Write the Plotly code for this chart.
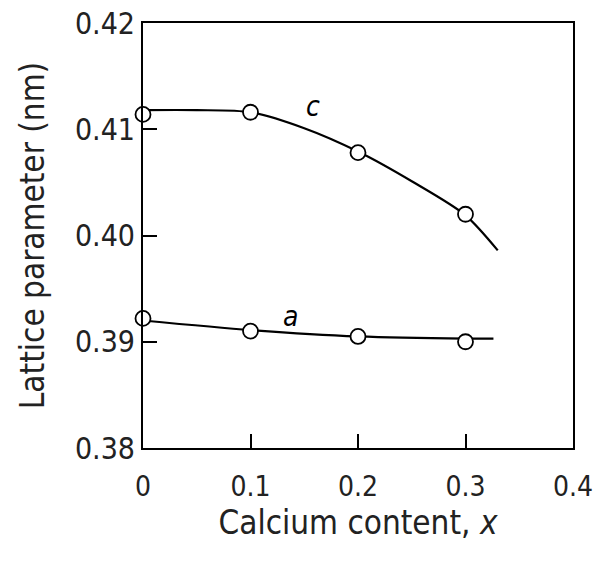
import plotly.graph_objects as go

# measured points
x_pts = [0.0, 0.1, 0.2, 0.3]
c_pts = [0.4114, 0.4116, 0.4078, 0.4020]
a_pts = [0.3922, 0.3910, 0.3905, 0.3900]

# fitted curves as drawn
c_curve_x = [0.0, 0.05, 0.1, 0.15, 0.2, 0.25, 0.3, 0.33]
c_curve_y = [0.4118, 0.4118, 0.4116, 0.4101, 0.4079, 0.4051, 0.4019, 0.3986]
a_curve_x = [0.0, 0.1, 0.2, 0.3, 0.326]
a_curve_y = [0.3920, 0.3911, 0.3905, 0.3903, 0.3903]

x_ticks = [0, 0.1, 0.2, 0.3, 0.4]
x_tick_text = ["0", "0.1", "0.2", "0.3", "0.4"]
y_ticks = [0.38, 0.39, 0.40, 0.41, 0.42]
y_tick_text = ["0.38", "0.39", "0.40", "0.41", "0.42"]

FONT = "DejaVu Sans Condensed"
fig = go.Figure()
for cx, cy in [(c_curve_x, c_curve_y), (a_curve_x, a_curve_y)]:
    fig.add_trace(go.Scatter(x=cx, y=cy, mode="lines", line=dict(color="black", width=2.2, shape="spline", smoothing=0.8),
                             showlegend=False, hoverinfo="skip", cliponaxis=False))
for yy in [c_pts, a_pts]:
    fig.add_trace(go.Scatter(x=x_pts, y=yy, mode="markers",
                             marker=dict(symbol="circle", size=15, color="white", line=dict(color="black", width=1.8)),
                             showlegend=False, cliponaxis=False))

fig.add_annotation(x=0.158, y=0.4121, text="<i>c</i>", showarrow=False, font=dict(family=FONT, size=28, color="black"))
fig.add_annotation(x=0.137, y=0.3924, text="<i>a</i>", showarrow=False, font=dict(family=FONT, size=28, color="black"))

fig.update_layout(
    width=593, height=565, margin=dict(l=143, r=20, t=23, b=117),
    paper_bgcolor="white", plot_bgcolor="white",
    font=dict(family=FONT, size=30, color="#222"),
    xaxis=dict(range=[0, 0.4], tickvals=x_ticks, ticktext=x_tick_text, ticks="inside", ticklen=14,
               tickwidth=2, tickcolor="black", showline=True, linecolor="black", linewidth=2, mirror=True,
               showgrid=False, zeroline=False, ticklabelstandoff=12, ticklabeloverflow="allow",
               automargin=False, tickfont=dict(size=28),
               title=dict(text="Calcium content, <i>x</i>", font=dict(size=33), standoff=8)),
    yaxis=dict(range=[0.38, 0.42], tickvals=y_ticks, ticktext=y_tick_text, ticks="inside", ticklen=14,
               tickwidth=2, tickcolor="black", showline=True, linecolor="black", linewidth=2, mirror=True,
               showgrid=False, zeroline=False, ticklabeloverflow="allow", automargin=False,
               tickfont=dict(size=30),
               title=dict(text="Lattice parameter (nm)", font=dict(size=33), standoff=20)),
)
fig.write_html("out.html")
